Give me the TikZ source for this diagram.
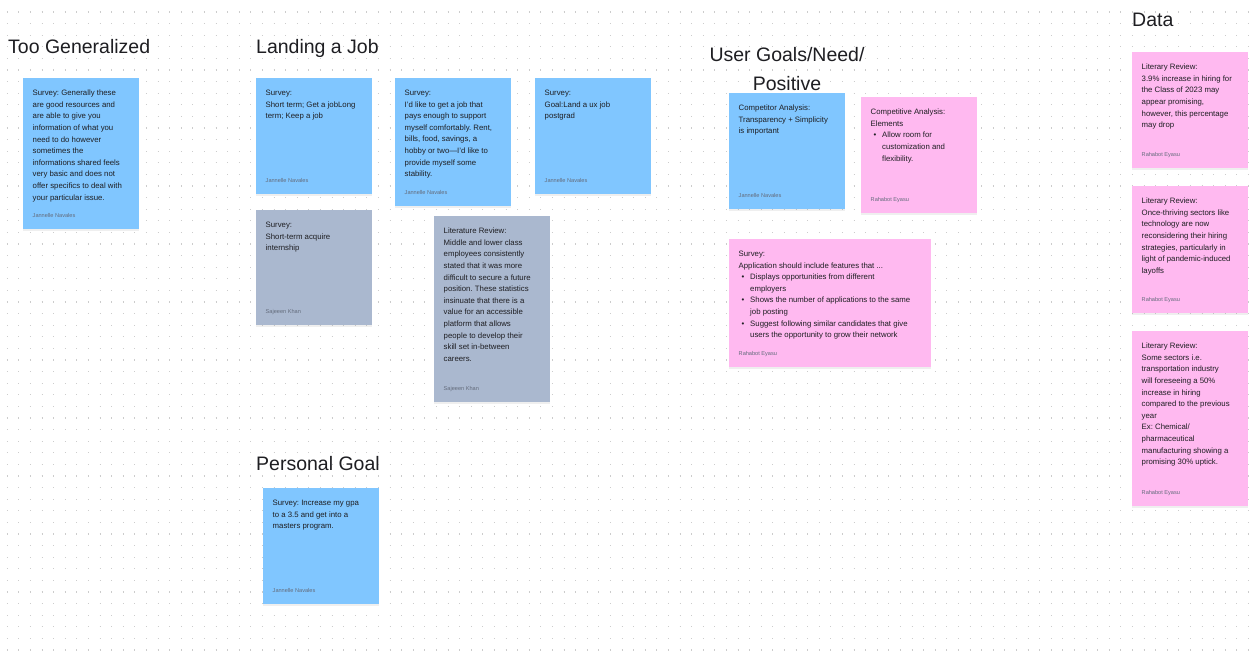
\documentclass[tikz,border=0pt]{standalone}
\usepackage{fontspec}
\setmainfont{Liberation Sans}
\usetikzlibrary{positioning,shadows}
\frenchspacing

\definecolor{noteblue}{RGB}{128,198,255}
\definecolor{notegrey}{RGB}{170,184,207}
\definecolor{notepink}{RGB}{255,185,240}
\definecolor{inkdark}{RGB}{30,30,34}
\definecolor{inkname}{RGB}{100,108,124}

\newcommand\notebul{\hspace*{3pt}\textbullet\hspace*{5.8pt}}
\newcommand\noteind{\hspace*{11.5pt}}

\tikzset{
  note/.style={anchor=north west, inner sep=0pt, minimum width=116pt,
    drop shadow={shadow xshift=0pt, shadow yshift=-1.5pt, opacity=.12}},
  blue note/.style={note, fill=noteblue},
  grey note/.style={note, fill=notegrey},
  pink note/.style={note, fill=notepink},
  notetext/.style={inner sep=0pt, align=left, text=inkdark,
    font=\fontsize{7.8}{11.6}\selectfont},
  author/.style={inner sep=0pt, text=inkname, text depth=0pt,
    font=\fontsize{5.6}{6}\selectfont},
  heading/.style={inner sep=0pt, text=inkdark, font=\fontsize{19.5}{29}\selectfont},
  dotgrid/.style={line width=1.1pt, black!20, dash pattern=on 1.1pt off 10.5pt}
}

\begin{document}
\begin{tikzpicture}[x=1pt, y=-1pt]
  \fill[white] (0,0) rectangle (1256,658);
  \useasboundingbox (0,0) rectangle (1256,658);
  % board dots
  \foreach \r in {1,...,56}
    \draw[dotgrid] (6.75,{0.4+11.6*\r}) -- (1256,{0.4+11.6*\r});

  % headings
  \node[heading, anchor=base west] (tgen)  at (8,54)    {Too Generalized};
  \node[heading, anchor=base west] (tjob)  at (256,54)  {Landing a Job};
  \node[heading, anchor=base west] (tgoal) at (256,470) {Personal Goal};
  \node[heading, anchor=base west] (tdata) at (1132,27) {Data};
  \node[heading, anchor=north, align=center] (tuser) at (787,47) {User Goals/Need/\\Positive};

  % too generalized
  \node[blue note, minimum height=151pt] (gen) at (23,78) {};
  \node[notetext, below right=11.9pt and 9.5pt of gen.north west] (gen-txt)
    {Survey: Generally these\\are good resources and\\are able to give you\\information of what you\\need to do however\\sometimes the\\informations shared feels\\very basic and does not\\offer specifics to deal with\\your particular issue.};
  \node[author, above right=12pt and 9.5pt of gen.south west] (gen-by) {Jannelle Navales};

  % landing a job
  \node[blue note, minimum height=116pt] (job1) at (256,78) {};
  \node[notetext, below right=11.9pt and 9.5pt of job1.north west] (job1-txt)
    {Survey:\\Short term; Get a jobLong\\term; Keep a job};
  \node[author, above right=12pt and 9.5pt of job1.south west] (job1-by) {Jannelle Navales};

  \node[blue note, minimum height=128pt] (job2) at (395,78) {};
  \node[notetext, below right=11.9pt and 9.5pt of job2.north west] (job2-txt)
    {Survey:\\I'd like to get a job that\\pays enough to support\\myself comfortably. Rent,\\bills, food, savings, a\\hobby or two—I'd like to\\provide myself some\\stability.};
  \node[author, above right=12pt and 9.5pt of job2.south west] (job2-by) {Jannelle Navales};

  \node[blue note, minimum height=116pt] (job3) at (535,78) {};
  \node[notetext, below right=11.9pt and 9.5pt of job3.north west] (job3-txt)
    {Survey:\\Goal:Land a ux job\\postgrad};
  \node[author, above right=12pt and 9.5pt of job3.south west] (job3-by) {Jannelle Navales};

  \node[grey note, minimum height=115pt] (intern) at (256,210) {};
  \node[notetext, below right=11.9pt and 9.5pt of intern.north west] (intern-txt)
    {Survey:\\Short-term acquire\\internship};
  \node[author, above right=12pt and 9.5pt of intern.south west] (intern-by) {Sajeeen Khan};

  \node[grey note, minimum height=186pt] (lit) at (434,216) {};
  \node[notetext, below right=11.9pt and 9.5pt of lit.north west] (lit-txt)
    {Literature Review:\\Middle and lower class\\employees consistently\\stated that it was more\\difficult to secure a future\\position. These statistics\\insinuate that there is a\\value for an accessible\\platform that allows\\people to develop their\\skill set in-between\\careers.};
  \node[author, above right=12pt and 9.5pt of lit.south west] (lit-by) {Sajeeen Khan};

  % personal goal
  \node[blue note, minimum height=116pt] (gpa) at (263,488) {};
  \node[notetext, below right=11.9pt and 9.5pt of gpa.north west] (gpa-txt)
    {Survey: Increase my gpa\\to a 3.5 and get into a\\masters program.};
  \node[author, above right=12pt and 9.5pt of gpa.south west] (gpa-by) {Jannelle Navales};

  % user goals / need / positive
  \node[blue note, minimum height=116pt] (comp) at (729,93) {};
  \node[notetext, below right=11.9pt and 9.5pt of comp.north west] (comp-txt)
    {Competitor Analysis:\\Transparency + Simplicity\\is important};
  \node[author, above right=12pt and 9.5pt of comp.south west] (comp-by) {Jannelle Navales};

  \node[pink note, minimum height=116pt] (elem) at (861,97) {};
  \node[notetext, below right=11.9pt and 9.5pt of elem.north west] (elem-txt)
    {Competitive Analysis:\\Elements\\\notebul Allow room for\\\noteind customization and\\\noteind flexibility.};
  \node[author, above right=12pt and 9.5pt of elem.south west] (elem-by) {Rahabot Eyasu};

  \node[pink note, minimum width=202pt, minimum height=128pt] (feat) at (729,239) {};
  \node[notetext, below right=11.9pt and 9.5pt of feat.north west] (feat-txt)
    {Survey:\\Application should include features that ...\\\notebul Displays opportunities from different\\\noteind employers\\\notebul Shows the number of applications to the same\\\noteind job posting\\\notebul Suggest following similar candidates that give\\\noteind users the opportunity to grow their network};
  \node[author, above right=12pt and 9.5pt of feat.south west] (feat-by) {Rahabot Eyasu};

  % data
  \node[pink note, minimum height=116pt] (data1) at (1132,52) {};
  \node[notetext, below right=11.9pt and 9.5pt of data1.north west] (data1-txt)
    {Literary Review:\\3.9\% increase in hiring for\\the Class of 2023 may\\appear promising,\\however, this percentage\\may drop};
  \node[author, above right=12pt and 9.5pt of data1.south west] (data1-by) {Rahabot Eyasu};

  \node[pink note, minimum height=127pt] (data2) at (1132,186) {};
  \node[notetext, below right=11.9pt and 9.5pt of data2.north west] (data2-txt)
    {Literary Review:\\Once-thriving sectors like\\technology are now\\reconsidering their hiring\\strategies, particularly in\\light of pandemic-induced\\layoffs};
  \node[author, above right=12pt and 9.5pt of data2.south west] (data2-by) {Rahabot Eyasu};

  \node[pink note, minimum height=175pt] (data3) at (1132,331) {};
  \node[notetext, below right=11.9pt and 9.5pt of data3.north west] (data3-txt)
    {Literary Review:\\Some sectors i.e.\\transportation industry\\will foreseeing a 50\%\\increase in hiring\\compared to the previous\\year\\Ex: Chemical/\\pharmaceutical\\manufacturing showing a\\promising 30\% uptick.};
  \node[author, above right=12pt and 9.5pt of data3.south west] (data3-by) {Rahabot Eyasu};
\end{tikzpicture}
\end{document}
